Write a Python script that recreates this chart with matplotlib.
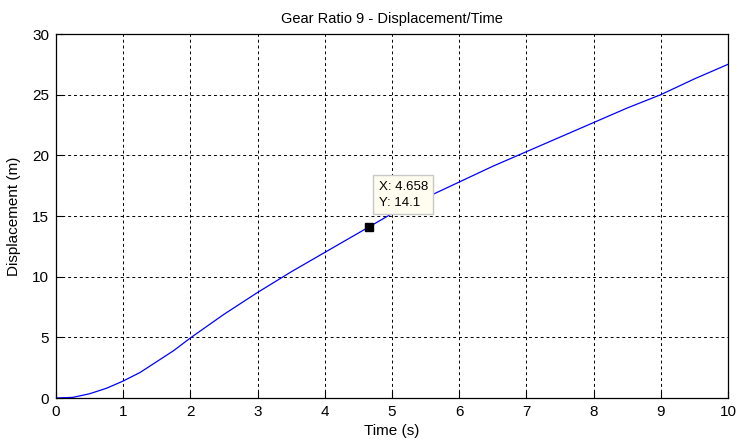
import matplotlib.pyplot as plt
import numpy as np

plt.rcParams['font.family'] = ['Liberation Sans', 'DejaVu Sans']

# Zeit- und Wegdaten
time_s = [0, 0.25, 0.5, 0.75, 1, 1.25, 1.5, 1.75, 2, 2.5, 3, 3.5, 4, 4.658,
          5, 5.5, 6, 6.5, 7, 7.5, 8, 8.5, 9, 9.5, 10]
disp_m = [0, 0.05, 0.35, 0.8, 1.4, 2.1, 3.0, 3.9, 4.95, 6.9, 8.7, 10.4, 12.0, 14.1,
          15.2, 16.5, 17.8, 19.1, 20.3, 21.5, 22.7, 23.9, 25.0, 26.3, 27.5]

tip_x = 4.658
tip_y = 14.1

fig = plt.figure(figsize=(7.37, 4.46), dpi=100)
ax = fig.add_axes([56 / 737, 1 - 398 / 446, 672 / 737, 364 / 446])

ax.plot(time_s, disp_m, color="blue", linewidth=0.9)
ax.plot([tip_x], [tip_y], marker="s", color="black", markersize=6, linestyle="none")

ax.set_xlim(0, 10)
ax.set_ylim(0, 30)
ax.set_xticks(np.arange(0, 11, 1))
ax.set_yticks(np.arange(0, 31, 5))
ax.tick_params(direction="in", length=5, labelsize=11, colors="black", pad=5)
ax.grid(True, color="black", linestyle=(0, (3, 3)), linewidth=0.7)
for s in ax.spines.values():
    s.set_linewidth(0.9)

ax.set_title("Gear Ratio 9 - Displacement/Time", fontsize=10.5, pad=8)
ax.set_xlabel("Time (s)", fontsize=11, labelpad=4)
ax.set_ylabel("Displacement (m)", fontsize=11, labelpad=8)

# Datentipp
ax.annotate(f"X: {tip_x}\nY: {tip_y}", xy=(tip_x, tip_y), xytext=(7, 15),
            textcoords="offset points", fontsize=9.5, linespacing=1.5,
            bbox=dict(boxstyle="square,pad=0.4", fc="#FFFDF0", ec="#C8C8C8", lw=1))

plt.savefig("out.png", dpi=100)
